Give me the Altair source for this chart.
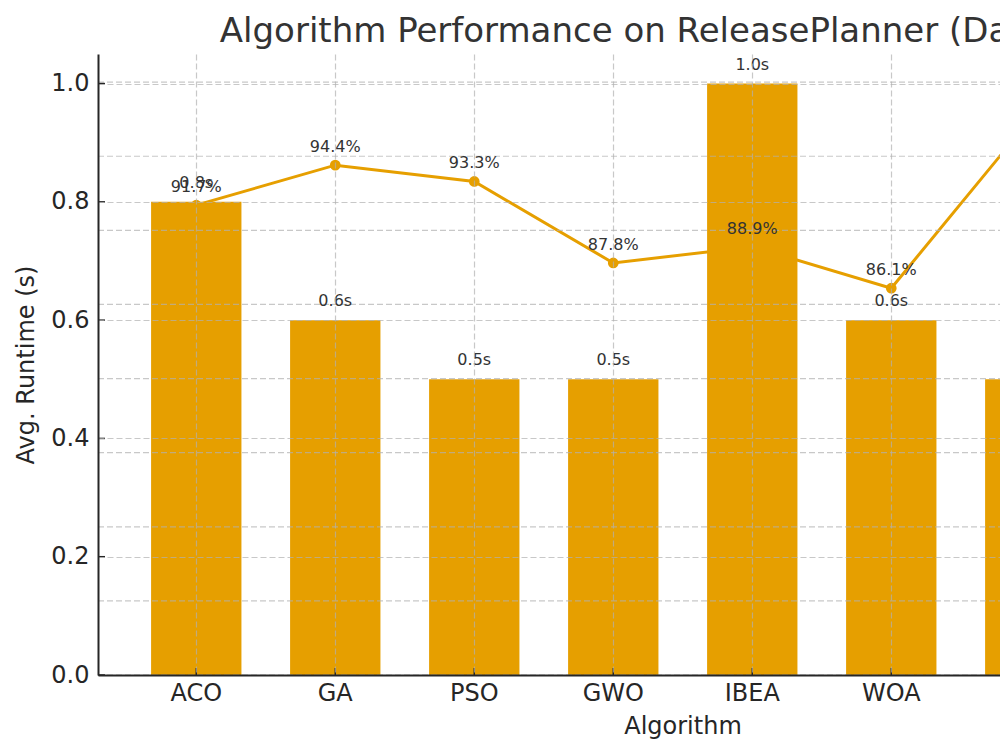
import altair as alt
import pandas as pd

# ---- data ----
algorithms = ["ACO", "GA", "PSO", "GWO", "IBEA", "WOA", "SSA"]
runtime_s = [0.8, 0.6, 0.5, 0.5, 1.0, 0.6, 0.5]
accuracy_pct = [91.7, 94.4, 93.3, 87.8, 88.9, 86.1, 97.5]
runtime_ticks = [0.0, 0.2, 0.4, 0.6, 0.8, 1.0]
accuracy_ticks = [60, 65, 70, 75, 80, 85, 90, 95, 100]

df = pd.DataFrame({"Algorithm": algorithms, "Runtime": runtime_s, "Accuracy": accuracy_pct})
df["rt_label"] = [f"{v:.1f}s" for v in runtime_s]
df["acc_label"] = [f"{v:.1f}%" for v in accuracy_pct]
tick_df = pd.DataFrame({"t": runtime_ticks})
acc_tick_df = pd.DataFrame({"a": accuracy_ticks})

W, H = 902, 621
FULL = 1169
ORANGE = "#E69F00"
FONT = "DejaVu Sans"
DARK = "#262626"
TXT = "#333333"
GRID = dict(grid=True, gridColor="#b0b0b0", gridOpacity=0.7, gridDash=[6, 3], gridWidth=1.2)

x_scale = alt.Scale(domain=algorithms, range=[0, FULL], paddingInner=0.35,
                    paddingOuter=0.88, align=0.217)
left_scale = alt.Scale(domain=[0, 1.05], nice=False, zero=False)
right_scale = alt.Scale(domain=[60, 101.9], nice=False, zero=False)

x_enc = alt.X(
    "Algorithm:N", scale=x_scale,
    axis=alt.Axis(title="Algorithm", titleFontSize=24, titleFont=FONT, titleColor=DARK,
                  titleFontWeight="normal", labelFontSize=24, labelFont=FONT,
                  labelColor=DARK, labelAngle=0, labelPadding=6, titlePadding=9,
                  ticks=False, domainColor=DARK, domainWidth=2, bandPosition=0.5,
                  labelOverlap=False, zindex=2, **GRID),
)

base = alt.Chart(df)

line = base.mark_line(color=ORANGE, strokeWidth=3).encode(
    x=x_enc, y=alt.Y("Accuracy:Q", scale=right_scale, axis=None),
)
points = base.mark_circle(size=115, color=ORANGE, opacity=1).encode(
    x=x_enc, y=alt.Y("Accuracy:Q", scale=right_scale, axis=None)
)
bars = base.mark_bar(color=ORANGE).encode(
    x=x_enc,
    y=alt.Y("Runtime:Q", scale=left_scale,
            axis=alt.Axis(title="Avg. Runtime (s)", values=runtime_ticks, format=".1f",
                          labelFontSize=24, labelFont=FONT, labelColor=DARK,
                          titleFontSize=24, titleFont=FONT, titleColor=DARK,
                          titleFontWeight="normal", titlePadding=12, ticks=False,
                          labelPadding=9, domainColor=DARK, domainWidth=2,
                          zindex=1, **GRID)),
)
acc_grid = alt.Chart(acc_tick_df).mark_rule(
    color="#b0b0b0", opacity=0.7, strokeDash=[6, 3], strokeWidth=1.2
).encode(
    y=alt.Y("a:Q", scale=right_scale, axis=None), x=alt.value(0), x2=alt.value(FULL)
)
bar_labels = base.mark_text(font=FONT, fontSize=16, color=TXT, baseline="alphabetic", dy=-14).encode(
    x=x_enc, y=alt.Y("Runtime:Q", scale=left_scale, axis=None), text="rt_label:N"
)
acc_labels = base.mark_text(font=FONT, fontSize=16, color=TXT, baseline="alphabetic", dy=-13).encode(
    x=x_enc, y=alt.Y("Accuracy:Q", scale=right_scale, axis=None), text="acc_label:N"
)
y_ticks = alt.Chart(tick_df).mark_rule(color=DARK, strokeWidth=1.5).encode(
    y=alt.Y("t:Q", scale=left_scale, axis=None), x=alt.value(0), x2=alt.value(7)
)
x_ticks = base.mark_rule(color=DARK, strokeWidth=1.5).encode(
    x=x_enc, y=alt.value(H - 7), y2=alt.value(H)
)

chart = alt.layer(line, points, bars, acc_grid, bar_labels, acc_labels, y_ticks, x_ticks).resolve_scale(
    y="independent"
).properties(
    width=W, height=H,
    autosize=alt.AutoSizeParams(type="none"),
    padding={"left": 98, "top": 54, "right": 0, "bottom": 75},
    title=alt.TitleParams(text="Algorithm Performance on ReleasePlanner (Dataset 1)",
                          fontSize=34, font=FONT, color=TXT, fontWeight="normal",
                          anchor="start", dx=205, baseline="alphabetic", offset=12, dy=34),
).configure_view(stroke=None)

chart.save("out.html", embed_options={"renderer": "svg", "actions": False})
